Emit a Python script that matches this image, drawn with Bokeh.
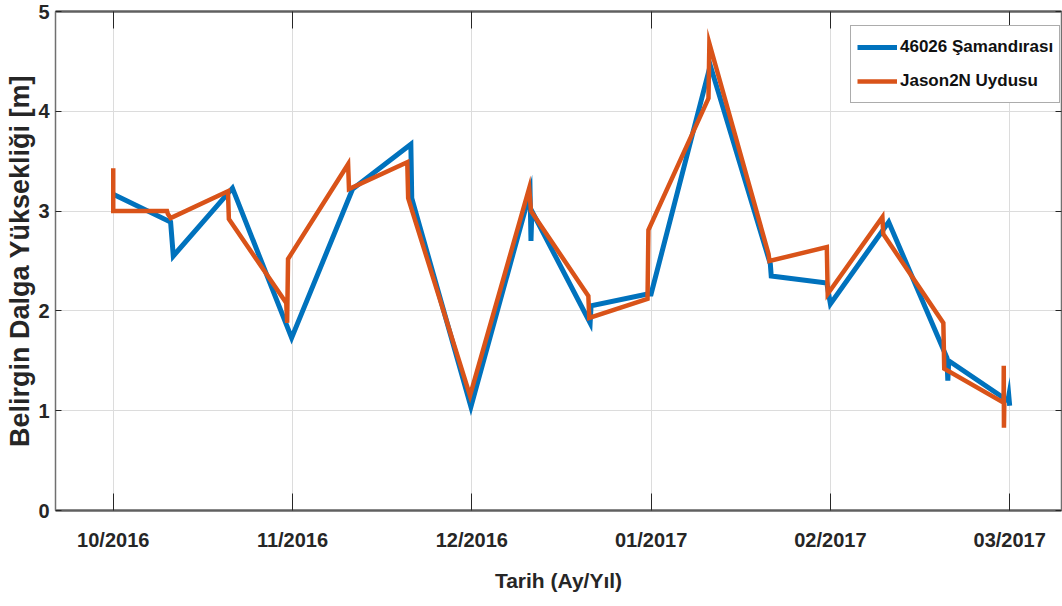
from bokeh.plotting import figure
from bokeh.models import Range1d, LinearAxis, FixedTicker, Legend, LegendItem
from bokeh.embed import file_html
from bokeh.resources import INLINE

# Month tick positions (one unit per month) and their labels
month_pos = [0, 1, 2, 3, 4, 5]
month_labels = ["10/2016", "11/2016", "12/2016", "01/2017", "02/2017", "03/2017"]
hs_ticks = [0, 1, 2, 3, 4, 5]

# 46026 buoy significant wave height [m], time in months from 10/2016
buoy_t = [0.0, 0.32, 0.335, 0.665, 0.995, 1.335, 1.66, 1.665, 1.995, 2.325, 2.33,
          2.335, 2.66, 2.665, 2.98, 3.0, 3.33, 3.665, 3.67, 3.98, 4.0, 4.325,
          4.65, 4.655, 4.66, 4.99, 4.995, 5.0]
buoy_hs = [3.17, 2.89, 2.55, 3.23, 1.73, 3.22, 3.67, 3.13, 1.04, 3.19, 2.70,
           3.00, 1.88, 2.05, 2.17, 2.17, 4.46, 2.47, 2.35, 2.28, 2.07, 2.89,
           1.53, 1.30, 1.50, 1.10, 1.15, 1.05]

# Jason-2 altimeter significant wave height [m]
sat_t = [0.0, 0.0, 0.30, 0.305, 0.32, 0.64, 0.645, 0.965, 0.97, 0.975, 1.31,
         1.315, 1.64, 1.645, 1.99, 2.32, 2.33, 2.65, 2.655, 2.98, 2.985, 3.32,
         3.325, 3.655, 3.66, 3.98, 3.985, 4.29, 4.295, 4.63, 4.635, 4.966,
         4.967, 4.968, 4.97]
sat_hs = [3.43, 3.00, 3.00, 2.97, 2.93, 3.20, 2.92, 2.08, 1.88, 2.52, 3.47,
          3.22, 3.49, 3.13, 1.15, 3.23, 3.00, 2.15, 1.93, 2.12, 2.81, 4.13,
          4.68, 2.57, 2.50, 2.64, 2.17, 2.94, 2.77, 1.88, 1.42, 1.08, 1.45,
          0.83, 1.08]

BLUE = "#0072BD"
ORANGE = "#D95319"
FONT = "Liberation Sans"
TXT = "#262626"

p = figure(width=1062, height=606, output_backend="svg", toolbar_location=None,
           x_range=Range1d(-0.322, 5.289), y_range=Range1d(0, 5),
           min_border_left=55, min_border_right=1, min_border_top=11,
           min_border_bottom=96, background_fill_color="white",
           border_fill_color="white", outline_line_color=None)

# bottom axis
xa = p.xaxis[0]
xa.ticker = FixedTicker(ticks=month_pos)
xa.major_label_overrides = {m: lab for m, lab in zip(month_pos, month_labels)}
xa.major_label_text_font = FONT
xa.major_label_text_font_style = "bold"
xa.major_label_text_font_size = "20px"
xa.major_label_text_color = TXT
xa.major_label_standoff = 18
xa.major_tick_in = 17
xa.major_tick_out = 0
xa.major_tick_line_color = "#262626"
xa.minor_tick_line_color = None
xa.axis_line_color = "#606060"
xa.axis_line_width = 2.5
xa.axis_label = "Tarih (Ay/Yıl)"
xa.axis_label_text_font = FONT
xa.axis_label_text_font_style = "bold"
xa.axis_label_text_font_size = "21px"
xa.axis_label_text_color = TXT
xa.axis_label_standoff = 15

# left axis
ya = p.yaxis[0]
ya.ticker = FixedTicker(ticks=hs_ticks)
ya.major_label_text_font = FONT
ya.major_label_text_font_style = "bold"
ya.major_label_text_font_size = "20px"
ya.major_label_text_color = TXT
ya.major_label_standoff = 6
ya.major_tick_in = 6
ya.major_tick_out = 0
ya.major_tick_line_color = "#262626"
ya.minor_tick_line_color = None
ya.axis_line_color = "#707070"
ya.axis_line_width = 1.5
ya.axis_label = "Belirgin Dalga Yüksekliği [m]"
ya.axis_label_text_font = FONT
ya.axis_label_text_font_style = "bold"
ya.axis_label_text_font_size = "27px"
ya.axis_label_text_color = TXT
ya.axis_label_standoff = 0

# top and right axes close the box
top = LinearAxis(ticker=FixedTicker(ticks=month_pos),
                 major_label_overrides={m: "" for m in month_pos},
                 major_label_standoff=0, major_tick_in=17, major_tick_out=0,
                 major_tick_line_color="#262626", minor_tick_line_color=None,
                 axis_line_color="#606060", axis_line_width=2.5)
p.add_layout(top, "above")
right = LinearAxis(ticker=FixedTicker(ticks=hs_ticks),
                   major_label_overrides={t: "" for t in hs_ticks},
                   major_label_standoff=0, major_tick_in=6, major_tick_out=0,
                   major_tick_line_color="#262626", minor_tick_line_color=None,
                   axis_line_color="#707070", axis_line_width=1.5)
p.add_layout(right, "right")

p.xgrid.ticker = FixedTicker(ticks=month_pos)
p.grid.grid_line_color = "#dcdcdc"
p.grid.grid_line_width = 1

r_buoy = p.line(buoy_t, buoy_hs, line_color=BLUE, line_width=5, line_join="miter")
r_sat = p.line(sat_t, sat_hs, line_color=ORANGE, line_width=4.5, line_join="miter")

legend = Legend(items=[LegendItem(label="46026 Şamandırası", renderers=[r_buoy]),
                       LegendItem(label="Jason2N Uydusu", renderers=[r_sat])],
                location=(795, 407), margin=0, padding=6, spacing=4,
                glyph_width=40, glyph_height=30, label_height=30, label_standoff=3,
                label_text_font=FONT, label_text_font_style="bold",
                label_text_font_size="17px", label_text_color="#111111",
                border_line_color="#5a5a5a", border_line_width=1.5,
                background_fill_color="white", background_fill_alpha=1)
p.add_layout(legend, "center")

open("out.html", "w").write(file_html(p, INLINE))
